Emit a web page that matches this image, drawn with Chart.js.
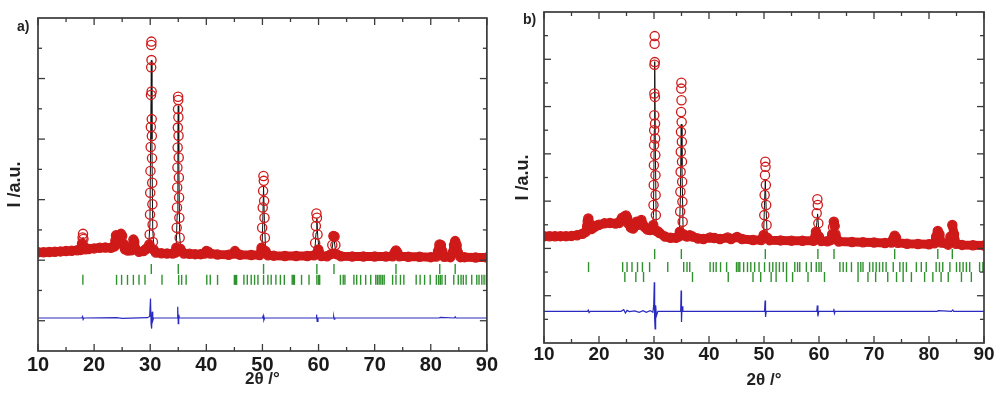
<!DOCTYPE html>
<html>
<head>
<meta charset="utf-8">
<script src="https://cdn.jsdelivr.net/npm/chart.js@4.4.0/dist/chart.umd.min.js"></script>
<style>
  html, body { margin: 0; padding: 0; background: #fff; }
  #wrap { position: relative; width: 1000px; height: 396px; }
  .box { position: absolute; top: 0; width: 500px; height: 396px; }
</style>
</head>
<body>
<div id="wrap">
  <div class="box" style="left:0"><canvas id="chartA" width="500" height="396"></canvas></div>
  <div class="box" style="left:500px"><canvas id="chartB" width="500" height="396"></canvas></div>
</div>
<script>
// ==============================
// DATA - panel a)
// ==============================
const xLabels = [10, 20, 30, 40, 50, 60, 70, 80, 90];
const xMinor = [15, 25, 35, 45, 55, 65, 75, 85];

const yMajorA = [1, 3, 5, 7, 9];
const yMinorA = [2, 4, 6, 8, 10];

// observed (2theta, I)
const obsA = [
  [10,3.26],[11,3.26],[12,3.27],[13,3.28],[14,3.29],[15,3.30],[16,3.31],[17,3.33],[17.6,3.34],
  [17.85,3.55],[17.95,3.75],[18.02,3.87],[18.1,3.7],[18.2,3.45],[18.4,3.36],
  [19,3.37],[20,3.39],[21,3.41],[22,3.42],[23,3.41],[23.6,3.45],[23.8,3.65],[23.9,3.82],[24.05,3.7],
  [24.3,3.55],[24.6,3.7],[24.8,3.87],[25.0,3.8],[25.2,3.55],[25.5,3.36],[26,3.32],[26.6,3.33],
  [26.85,3.5],[27.0,3.68],[27.15,3.6],[27.4,3.36],[28,3.28],[28.8,3.3],[29.2,3.36],[29.5,3.4],[29.7,3.42],
  [29.84,3.52],[29.9,3.85],[29.96,4.51],[30.0,5.23],[30.04,5.95],[30.08,6.74],[30.11,7.4],[30.14,8.46],
  [30.17,9.37],[30.19,10.11],[30.21,10.22],[30.23,9.61],[30.25,8.57],[30.27,7.66],[30.29,7.1],[30.32,6.37],
  [30.35,5.56],[30.38,4.85],[30.42,4.18],[30.48,3.6],[30.6,3.35],
  [31,3.25],[32,3.23],[33,3.22],[34,3.22],[34.5,3.25],
  [34.65,3.41],[34.72,4.07],[34.77,4.74],[34.81,5.4],[34.85,6.06],[34.89,6.72],[34.92,7.38],[34.95,7.99],
  [34.97,8.4],[35.0,8.29],[35.02,7.72],[35.05,7.11],[35.08,6.39],[35.11,5.73],[35.15,5.07],[35.19,4.4],
  [35.25,3.74],[35.35,3.38],
  [36,3.22],[37,3.21],[38,3.2],[39,3.2],[39.7,3.22],[40.0,3.3],[40.3,3.28],[40.7,3.22],[42,3.19],[44,3.18],
  [44.8,3.22],[45.1,3.3],[45.4,3.22],[46,3.18],[48,3.17],[49.5,3.17],
  [49.85,3.41],[49.95,4.07],[50.05,4.74],[50.12,5.29],[50.18,5.78],[50.24,5.62],[50.3,4.96],[50.36,4.4],
  [50.44,3.74],[50.55,3.3],
  [51,3.16],[52,3.15],[54,3.14],[56,3.14],[58,3.14],[59.2,3.16],
  [59.4,3.57],[59.52,4.13],[59.62,4.54],[59.72,4.4],[59.82,3.85],[59.95,3.35],
  [60.5,3.14],[61.5,3.13],[62.2,3.2],[62.45,3.5],[62.65,3.8],[62.85,3.78],[63.0,3.5],[63.2,3.2],
  [64,3.13],[66,3.12],[68,3.12],[70,3.12],[72,3.12],[73.2,3.13],[73.55,3.25],[73.8,3.32],[74.05,3.25],[74.4,3.13],
  [76,3.11],[78,3.11],[80,3.1],[81.0,3.12],[81.3,3.3],[81.55,3.52],[81.8,3.5],[82.05,3.3],[82.4,3.11],
  [83.5,3.1],[83.9,3.25],[84.15,3.5],[84.35,3.63],[84.6,3.5],[84.85,3.25],[85.3,3.1],
  [86,3.1],[88,3.09],[90,3.09]
];

// calculated
const calcA = [
  [10,3.26],[17,3.33],[17.8,3.4],[18.02,3.75],[18.25,3.38],[19,3.37],[22,3.42],[23.6,3.42],[23.9,3.75],
  [24.2,3.5],[24.8,3.8],[25.3,3.4],[26.6,3.32],[27.0,3.62],[27.4,3.34],[29.7,3.4],[29.95,4.2],[30.1,7.5],
  [30.2,9.6],[30.3,7.0],[30.45,4.0],[30.7,3.3],[34.6,3.23],[34.8,4.5],[34.93,7.2],[35.0,8.1],[35.08,6.5],
  [35.25,3.8],[35.5,3.25],[49.9,3.2],[50.05,4.2],[50.2,5.43],[50.35,4.3],[50.6,3.2],[59.3,3.17],[59.55,3.9],
  [59.7,4.38],[59.85,3.8],[60.2,3.16],[62.3,3.2],[62.7,3.8],[63.1,3.2],[73.4,3.13],[73.8,3.3],[74.2,3.13],
  [81.1,3.12],[81.6,3.48],[82.1,3.13],[83.8,3.12],[84.35,3.6],[84.9,3.12],[90,3.09]
];

// difference
const diffA = [
  [10,1.09],[17.8,1.09],[17.95,1.14],[18.05,1.04],[18.2,1.09],[24,1.1],[25,1.08],[29.5,1.1],[29.9,1.14],
  [30.05,1.73],[30.15,0.9],[30.25,0.74],[30.35,1.3],[30.45,1.0],[30.6,1.09],[34.8,1.09],[34.9,1.46],
  [35.0,0.9],[35.08,1.2],[35.2,1.09],[50.0,1.09],[50.15,1.17],[50.25,1.02],[50.4,1.09],[59.55,1.09],
  [59.65,1.2],[59.75,0.98],[59.9,1.09],[62.6,1.09],[62.7,1.14],[62.8,1.05],[62.9,1.09],[81.5,1.09],
  [81.7,1.11],[84.2,1.09],[84.35,1.13],[84.5,1.09],[90,1.09]
];

// reflection markers
const hklA1 = [30.19, 35.0, 50.2, 59.7, 62.75, 73.8, 81.6, 84.35];
const hklA2 = [18.0, 24.0, 24.9, 25.95, 27.0, 28.0, 29.07, 32.1, 35.07, 35.6, 36.4, 40.08, 40.7, 42.0,
  45.0, 45.2, 45.4, 46.7, 47.3, 48.0, 48.6, 49.2, 50.2, 50.97, 51.56, 52.4, 53.2, 53.9, 55.3, 55.5, 55.7,
  56.97, 58.3, 59.7, 60.0, 60.2, 63.9, 64.4, 64.7, 66.3, 66.8, 67.5, 68.4, 69.3, 70.2, 70.5, 70.8, 71.1,
  71.4, 71.7, 73.2, 73.8, 74.6, 75.2, 77.4, 78.1, 78.9, 79.9, 81.0, 81.4, 81.7, 82.0, 82.6, 84.1, 84.9,
  85.4, 85.8, 86.3, 87.3, 88.2, 88.6, 89.1, 89.5, 89.9];

// ==============================
// DATA - panel b)
// ==============================
const yMajorB = [2, 4, 6, 8, 10, 12];
const yMinorB = [1, 3, 5, 7, 9, 11, 13];

const obsB = [
  [10,4.51],[11,4.51],[12,4.51],[13,4.52],[14,4.52],[15,4.53],[16,4.56],[17,4.62],[17.6,4.7],
  [17.85,4.95],[17.95,5.15],[18.05,5.27],[18.15,5.12],[18.3,4.88],[18.6,4.82],
  [19,4.88],[19.5,4.96],[20,5.0],[21,5.06],[22,5.08],[23,5.05],[23.7,5.08],[24.0,5.2],[24.2,5.3],
  [24.45,5.22],[24.7,5.35],[24.9,5.39],[25.1,5.3],[25.35,5.05],[25.8,4.88],[26.2,4.84],[26.5,4.95],
  [26.8,5.13],[27.1,5.0],[27.4,5.05],[27.7,5.2],[28.0,5.0],[28.3,4.9],[28.8,4.8],[29.3,4.78],[29.7,4.85],
  [29.86,4.99],[29.91,5.84],[29.95,6.68],[29.98,7.52],[30.01,8.37],[30.03,9.0],[30.05,9.63],[30.07,10.55],
  [30.09,11.77],[30.11,12.66],[30.13,12.98],[30.15,11.88],[30.17,10.41],[30.19,9.28],[30.21,8.65],
  [30.24,7.95],[30.27,7.1],[30.3,6.26],[30.34,5.41],[30.41,4.75],
  [30.7,4.72],[31,4.65],[32,4.5],[33,4.45],[34,4.45],[34.5,4.5],
  [34.7,4.71],[34.76,5.56],[34.8,6.4],[34.84,7.24],[34.87,8.09],[34.9,8.93],[34.93,9.77],[34.96,10.76],
  [34.98,11.01],[35.0,10.27],[35.03,9.35],[35.06,8.51],[35.09,7.67],[35.12,6.82],[35.16,5.98],[35.21,5.13],
  [35.3,4.6],
  [35.6,4.55],[36,4.5],[36.5,4.56],[37,4.5],[38,4.42],[39,4.4],[40.2,4.46],[41,4.44],[42,4.4],[43.4,4.46],
  [44,4.4],[45.1,4.48],[46,4.4],[48,4.36],[49.5,4.36],
  [49.95,4.57],[50.05,5.41],[50.12,6.26],[50.18,7.1],[50.24,7.67],[50.28,7.45],[50.34,6.68],[50.4,5.84],
  [50.47,4.99],[50.6,4.45],
  [51,4.35],[53,4.34],[55,4.33],[57,4.32],[59,4.32],
  [59.45,4.71],[59.58,5.49],[59.7,6.08],[59.78,5.84],[59.88,5.06],[60.0,4.5],
  [60.4,4.31],[61.5,4.3],[62.1,4.35],
  [62.4,4.6],[62.55,4.9],[62.7,5.13],[62.85,4.95],[63.0,4.6],[63.2,4.4],
  [63.6,4.29],[66,4.27],[68,4.26],[70,4.25],[72,4.23],[73.2,4.25],[73.5,4.4],[73.76,4.54],[74.0,4.45],
  [74.3,4.24],[76,4.2],[78,4.19],[80,4.18],[81.0,4.22],[81.3,4.5],[81.6,4.74],[81.9,4.6],[82.2,4.25],
  [83.5,4.16],[83.9,4.5],[84.24,4.99],[84.55,4.6],[84.9,4.2],[86,4.15],[88,4.13],[90,4.12]
];

const calcB = [
  [10,4.51],[17,4.62],[17.8,4.8],[18.05,5.2],[18.3,4.85],[20,5.0],[22,5.08],[23.7,5.08],[24.2,5.25],
  [24.5,5.2],[24.9,5.32],[25.4,5.0],[26.3,4.85],[26.8,5.08],[27.2,5.0],[27.7,5.15],[28.3,4.88],[29.7,4.85],
  [29.9,5.4],[30.05,9.0],[30.13,11.9],[30.22,8.8],[30.4,5.0],[30.7,4.72],[34.6,4.48],[34.8,6.2],[34.95,9.25],
  [35.08,7.5],[35.3,4.7],[35.6,4.55],[49.9,4.37],[50.08,5.8],[50.24,6.86],[50.4,5.6],[50.6,4.4],
  [59.4,4.35],[59.6,5.1],[59.75,5.46],[59.9,4.95],[60.2,4.32],[62.35,4.4],[62.7,4.9],[63.1,4.35],
  [73.3,4.24],[73.76,4.5],[74.2,4.24],[81.1,4.2],[81.6,4.7],[82.1,4.2],[83.7,4.16],[84.24,4.92],
  [84.8,4.18],[90,4.12]
];

const diffB = [
  [10,1.34],[17.9,1.34],[18.05,1.39],[18.2,1.29],[18.4,1.34],[24,1.34],[24.5,1.41],[24.8,1.27],[25.1,1.38],
  [25.5,1.33],[26.5,1.36],[27.3,1.3],[28,1.37],[28.6,1.3],[29.3,1.37],[29.8,1.3],[29.95,1.6],[30.05,2.57],
  [30.12,1.0],[30.2,0.6],[30.3,1.6],[30.45,1.15],[30.7,1.34],[34.85,1.34],[34.93,2.22],[35.0,0.89],
  [35.1,1.55],[35.25,1.34],[50.1,1.34],[50.2,1.8],[50.28,1.1],[50.4,1.34],[59.6,1.34],[59.7,1.59],
  [59.8,1.12],[59.95,1.34],[62.6,1.34],[62.7,1.45],[62.8,1.25],[62.95,1.34],[81.5,1.34],[81.7,1.37],
  [84.1,1.34],[84.3,1.4],[84.5,1.34],[90,1.34]
];

const hklB1 = [30.12, 34.97, 50.24, 59.8, 62.73, 73.76, 81.6, 84.24];
const hklB2 = [18.1, 24.3, 25.1, 26.0, 27.0, 27.9, 29.2, 32.5, 35.4, 36.0, 36.5, 40.2, 40.8, 41.3, 42.1,
  43.2, 45.0, 45.3, 45.6, 46.3, 47.0, 47.6, 48.3, 49.1, 50.1, 51.0, 51.6, 52.2, 52.8, 53.5, 54.1, 55.6,
  56.1, 56.5, 57.7, 58.6, 59.5, 60.0, 60.4, 63.8, 64.4, 65.0, 65.9, 67.1, 67.6, 68.0, 69.2, 69.8, 70.4,
  71.0, 71.6, 72.2, 73.5, 74.7, 75.3, 75.9, 77.7, 78.6, 79.5, 81.3, 81.9, 82.5, 83.8, 85.0, 85.6, 86.2,
  86.8, 87.4, 89.2, 89.8];
const hklB3 = [24.7, 26.7, 28.1, 37.0, 43.5, 48.0, 49.4, 51.3, 52.2, 54.1, 55.2, 58.0, 61.0, 67.1, 68.9,
  70.3, 72.5, 74.1, 75.3, 76.8, 79.2, 80.7, 82.2, 83.5, 85.9, 87.7];

// ==============================
// STYLE
// ==============================
const RED = "#cf1a1a";
const GREEN = "#2f922f";
const BLUE = "#2a2ac0";
const FONT = "'Liberation Sans', Arial, sans-serif";

const pts = (arr) => arr.map((p) => ({ x: p[0], y: p[1] }));
const marks = (arr, row) => arr.map((v) => ({ x: v, y: row }));

// frame + inner ticks + panel letter
const framePlugin = {
  id: "frame",
  afterDatasetsDraw(chart, args, opts) {
    const { ctx, chartArea: a, scales } = chart;
    const sx = scales.x, sy = scales.y;
    ctx.save();
    ctx.strokeStyle = "#3a3a3a";
    ctx.lineWidth = 1.3;
    const seg = (x0, y0, x1, y1) => {
      ctx.beginPath(); ctx.moveTo(x0, y0); ctx.lineTo(x1, y1); ctx.stroke();
    };
    xLabels.forEach((v) => {
      const p = sx.getPixelForValue(v);
      seg(p, a.bottom, p, a.bottom - 7); seg(p, a.top, p, a.top + 7);
    });
    xMinor.forEach((v) => {
      const p = sx.getPixelForValue(v);
      seg(p, a.bottom, p, a.bottom - 4); seg(p, a.top, p, a.top + 4);
    });
    opts.yMajor.forEach((v) => {
      const p = sy.getPixelForValue(v);
      seg(a.left, p, a.left + 7, p); seg(a.right, p, a.right - 7, p);
    });
    opts.yMinor.forEach((v) => {
      const p = sy.getPixelForValue(v);
      seg(a.left, p, a.left + 4, p); seg(a.right, p, a.right - 4, p);
    });
    ctx.lineWidth = 1.7;
    ctx.strokeRect(a.left, a.top, a.right - a.left, a.bottom - a.top);
    ctx.fillStyle = "#222";
    ctx.font = "bold 14px " + FONT;
    ctx.textBaseline = "middle";
    ctx.fillText(opts.letter, opts.lx, opts.ly);
    ctx.restore();
  },
};

function makeChart(id, cfg) {
  // the thick band only follows the gentle part of the profile
  const steep = (c) => {
    const dx = Math.abs(c.p1.x - c.p0.x) || 0.01;
    return Math.abs(c.p1.y - c.p0.y) / dx > 6 ? "rgba(0,0,0,0)" : RED;
  };
  const datasets = [
    {
      label: "obs", data: pts(cfg.obs), order: 0,
      showLine: true, borderColor: RED, borderWidth: 9,
      borderJoinStyle: "round", borderCapStyle: "round",
      segment: { borderColor: steep },
      pointStyle: "circle", pointRadius: 4.6, pointBorderWidth: 1.3,
      pointBorderColor: RED, pointBackgroundColor: "rgba(0,0,0,0)",
    },
    {
      label: "calc", data: pts(cfg.calc), order: 1,
      showLine: true, borderColor: "#111", borderWidth: 1, pointRadius: 0,
    },
    {
      label: "diff", data: pts(cfg.diff), order: 2,
      showLine: true, borderColor: BLUE, borderWidth: 1.2, pointRadius: 0,
    },
  ];
  cfg.rows.forEach((r, i) => {
    datasets.push({
      label: "hkl" + i, data: marks(r.pos, r.y), order: 3,
      showLine: false, pointStyle: "line", rotation: 90,
      pointRadius: 5, pointBorderWidth: 1.4, pointBorderColor: GREEN,
    });
  });

  return new Chart(document.getElementById(id), {
    type: "scatter",
    data: { datasets },
    plugins: [framePlugin],
    options: {
      responsive: false,
      animation: false,
      layout: { padding: cfg.pad },
      plugins: {
        legend: { display: false },
        tooltip: { enabled: false },
        frame: cfg.frame,
      },
      scales: {
        x: {
          type: "linear", min: 10, max: 90,
          afterBuildTicks: (s) => { s.ticks = xLabels.map((v) => ({ value: v })); },
          afterFit: (s) => { s.height = cfg.xH; },
          grid: { display: false, drawTicks: false },
          border: { display: false },
          ticks: {
            color: "#1a1a1a", padding: cfg.tickPad, maxRotation: 0, autoSkip: false,
            font: { family: FONT, size: cfg.tickSize, weight: "bold" },
          },
          title: {
            display: true, text: "2θ /°", color: "#222",
            font: { family: FONT, size: 17, weight: "bold" },
            padding: { top: 0, bottom: cfg.titlePad },
          },
        },
        y: {
          type: "linear", min: 0, max: cfg.yMax,
          afterFit: (s) => { s.width = cfg.yW; },
          grid: { display: false, drawTicks: false },
          border: { display: false },
          ticks: { display: false },
          title: {
            display: true, text: "I /a.u.", color: "#222",
            font: { family: FONT, size: 18, weight: "bold" },
            padding: { top: cfg.yTitlePad, bottom: 0 },
          },
        },
      },
    },
  });
}

makeChart("chartA", {
  obs: obsA, calc: calcA, diff: diffA,
  rows: [{ pos: hklA1, y: 2.71 }, { pos: hklA2, y: 2.35 }],
  yMax: 11, xH: 45, yW: 38, tickPad: 2, tickSize: 20, titlePad: 6, yTitlePad: 4,
  pad: { left: 0, right: 9, top: 18, bottom: 0 },
  frame: { yMajor: yMajorA, yMinor: yMinorA, letter: "a)", lx: 17, ly: 27 },
});

makeChart("chartB", {
  obs: obsB, calc: calcB, diff: diffB,
  rows: [{ pos: hklB1, y: 3.76 }, { pos: hklB2, y: 3.21 }, { pos: hklB3, y: 2.79 }],
  yMax: 14, xH: 53, yW: 44, tickPad: 0, tickSize: 19, titlePad: 5, yTitlePad: 12,
  pad: { left: 0, right: 16, top: 12, bottom: 0 },
  frame: { yMajor: yMajorB, yMinor: yMinorB, letter: "b)", lx: 23, ly: 20 },
});
</script>
</body>
</html>
